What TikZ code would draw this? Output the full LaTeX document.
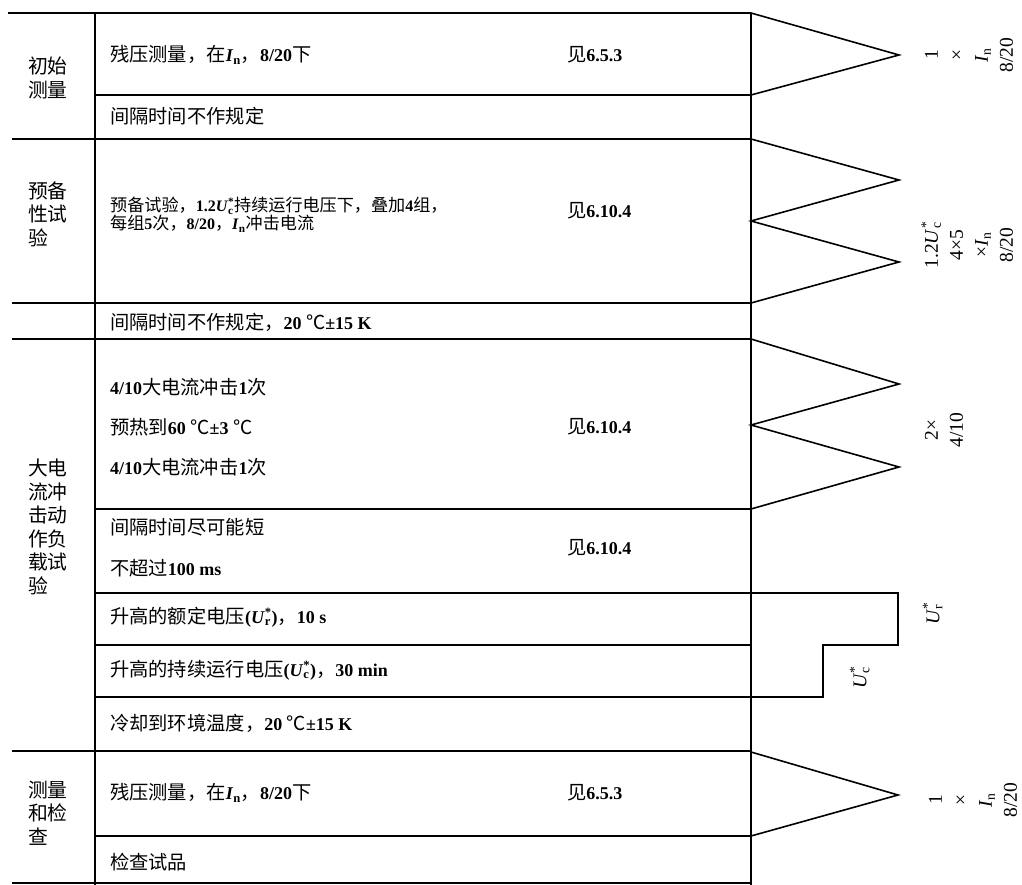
\documentclass[tikz,border=0pt]{standalone}
\usepackage{fontspec}
\setmainfont{Liberation Serif}
\newfontfamily\cjk[Scale=1.07]{Noto Sans CJK SC}
\newcommand\z[1]{{\cjk\mdseries #1}}
\newcommand\In{\textit{I}\textsubscript{n}}
\newcommand\Ust[1]{\textit{U}\hbox{\ooalign{\textsubscript{#1}\cr\textsuperscript{*}\cr}}}
\tikzset{
  ln/.style={line width=1.6pt, line join=miter},
  rowtxt/.style={anchor=west, inner sep=0pt, font=\fontsize{18}{20}\selectfont\bfseries},
  smalltxt/.style={anchor=west, inner sep=0pt, align=left, font=\fontsize{16}{18}\selectfont\bfseries},
  reftxt/.style={anchor=west, inner sep=0pt, font=\fontsize{18}{20}\selectfont\bfseries},
  secttxt/.style={anchor=west, inner sep=0pt, align=left, font=\fontsize{18.5}{23.5}\selectfont\cjk},
  lab/.style={rotate=90, inner sep=0pt, align=center, font=\fontsize{19.5}{25}\selectfont},
}
\begin{document}
\begin{tikzpicture}[x=1pt,y=-1pt]
\useasboundingbox (0,0) rectangle (1022,885);
% frame lines
\draw[ln] (8,13) -- (751,13);
\foreach \yy in {139,303,339,751,883} \draw[ln] (12,\yy) -- (751,\yy);
\foreach \yy in {95,509,645,836} \draw[ln] (95,\yy) -- (751,\yy);
\draw[ln] (95,13) -- (95,885);
\draw[ln] (751,13) -- (751,885);
% voltage steps
\draw[ln] (95,593) -- (898,593) -- (898,645) -- (823,645) -- (823,697) -- (95,697);
% impulse triangles
\draw[ln] (751,13) -- (899,55) -- (751,95);
\draw[ln] (751,139) -- (899,180) -- (751,221) -- (899,262) -- (751,303);
\draw[ln] (751,339) -- (899,384) -- (751,425) -- (899,467) -- (751,509);
\draw[ln] (751,752) -- (898,795) -- (751,836);
% section titles
\node[secttxt] (s1) at (28,78) {初始\\测量};
\node[secttxt] (s2) at (28,214) {预备\\性试\\验};
\node[secttxt] (s3) at (28,527) {大电\\流冲\\击动\\作负\\载试\\验};
\node[secttxt] (s4) at (28,813) {测量\\和检\\查};
% rows
\node[rowtxt] (r1) at (110,55) {\z{残压测量，在}\In\z{，}8/20\z{下}};
\node[rowtxt] (r2) at (110,116) {\z{间隔时间不作规定}};
\node[smalltxt] (r3) at (110,215) {\z{预备试验，}1.2\Ust{c}\z{持续运行电压下，叠加}4\z{组，}\\\z{每组}5\z{次，}8/20\z{，}\In\z{冲击电流}};
\node[rowtxt] (r4) at (110,322) {\z{间隔时间不作规定，}20 \z{℃}±15 K};
\node[rowtxt] (r5) at (110,387) {4/10\z{大电流冲击}1\z{次}};
\node[rowtxt] (r6) at (110,427) {\z{预热到}60 \z{℃}±3 \z{℃}};
\node[rowtxt] (r7) at (110,467) {4/10\z{大电流冲击}1\z{次}};
\node[rowtxt] (r8) at (110,527) {\z{间隔时间尽可能短}};
\node[rowtxt] (r9) at (110,568) {\z{不超过}100 ms};
\node[rowtxt] (r10) at (110,617) {\z{升高的额定电压}(\Ust{r})\z{，}10 s};
\node[rowtxt] (r11) at (110,670) {\z{升高的持续运行电压}(\Ust{c})\z{，}30 min};
\node[rowtxt] (r12) at (110,723) {\z{冷却到环境温度，}20 \z{℃}±15 K};
\node[rowtxt] (r13) at (110,793) {\z{残压测量，在}\In\z{，}8/20\z{下}};
\node[rowtxt] (r14) at (110,862) {\z{检查试品}};
% references
\node[reftxt] (f1) at (567,55) {\z{见}6.5.3};
\node[reftxt] (f2) at (567,211) {\z{见}6.10.4};
\node[reftxt] (f3) at (567,427) {\z{见}6.10.4};
\node[reftxt] (f4) at (567,548) {\z{见}6.10.4};
\node[reftxt] (f5) at (567,793) {\z{见}6.5.3};
% right labels
\node[lab] (l1) at (969,55) {1\\×\\\In\\8/20};
\node[lab] (l2) at (969,245) {1.2\Ust{c}\\4×5\\×\In\\8/20};
\node[lab] (l3) at (944,430) {2×\\4/10};
\node[lab] (l4) at (933,613) {\Ust{r}};
\node[lab] (l5) at (860,677) {\Ust{c}};
\node[lab] (l6) at (973,800) {1\\×\\\In\\8/20};
\end{tikzpicture}
\end{document}
